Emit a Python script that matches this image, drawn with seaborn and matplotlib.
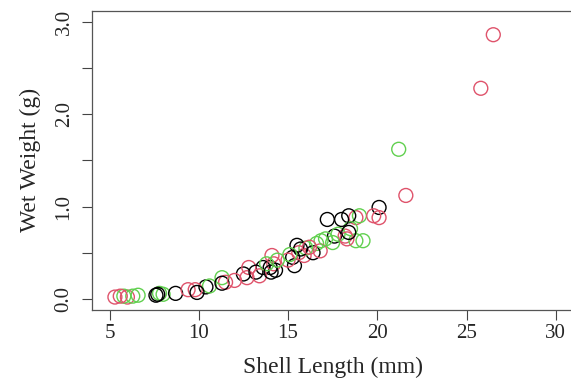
import numpy as np
import pandas as pd
import matplotlib
matplotlib.use("Agg")
import matplotlib.pyplot as plt
import seaborn as sns

# Shell length (mm) and wet weight (g) per group
black_len = [7.6, 7.7, 8.7, 9.9, 10.4, 11.3, 12.5, 13.2, 13.6, 14.0, 14.05, 14.3,
             15.26, 15.36, 15.5, 15.7, 16.4, 17.2, 17.6, 18.0, 18.4, 18.4, 20.1]
black_wt = [0.04, 0.05, 0.06, 0.07, 0.13, 0.17, 0.27, 0.29, 0.34, 0.34, 0.29, 0.31,
            0.45, 0.36, 0.58, 0.54, 0.50, 0.86, 0.68, 0.86, 0.90, 0.72, 0.99]

red_len = [5.3, 5.6, 6.0, 9.4, 9.8, 11.5, 12.0, 12.7, 12.8, 13.4, 14.1, 14.2,
           15.0, 15.6, 15.9, 16.2, 16.8, 18.2, 18.3, 18.8, 19.8, 20.1, 21.6, 25.8, 26.5]
red_wt = [0.02, 0.03, 0.02, 0.10, 0.10, 0.18, 0.20, 0.23, 0.34, 0.25, 0.47, 0.38,
          0.42, 0.50, 0.47, 0.56, 0.52, 0.68, 0.65, 0.88, 0.90, 0.88, 1.12, 2.28, 2.86]

green_len = [5.8, 6.3, 6.6, 7.8, 8.0, 10.6, 11.3, 13.8, 14.4, 15.1, 16.0, 16.6,
             16.85, 17.1, 17.5, 17.8, 18.5, 18.8, 19.0, 19.2, 21.2]
green_wt = [0.03, 0.03, 0.04, 0.06, 0.05, 0.14, 0.23, 0.38, 0.42, 0.48, 0.55, 0.60,
            0.63, 0.65, 0.61, 0.70, 0.76, 0.63, 0.90, 0.63, 1.62]

palette = {"black": "#000000", "red": "#DF536B", "green": "#61D04F"}

df = pd.concat([
    pd.DataFrame({"length": black_len, "weight": black_wt, "group": "black"}),
    pd.DataFrame({"length": red_len, "weight": red_wt, "group": "red"}),
    pd.DataFrame({"length": green_len, "weight": green_wt, "group": "green"}),
]).sample(frac=1, random_state=3).reset_index(drop=True)  # mix drawing order

sns.set_style("white")
plt.rcParams["font.family"] = ["Liberation Serif", "DejaVu Serif"]

fig = plt.figure(figsize=(5.71, 3.86), dpi=100)
ax = fig.add_axes([0.1606, 0.1969, 0.844, 0.7754])

sns.scatterplot(data=df, x="length", y="weight", hue="group", palette=palette,
                s=100, linewidth=1.0, legend=False, ax=ax)
# open circles like R's pch=1
coll = ax.collections[0]
coll.set_edgecolors(coll.get_facecolors())
coll.set_facecolors("none")

ax.set_xlim(4, 31)
ax.set_ylim(-0.12, 3.12)
ax.set_xticks([5, 10, 15, 20, 25, 30])
ax.set_yticks([0, 0.5, 1.0, 1.5, 2.0, 2.5, 3.0])
ax.set_yticklabels(["0.0", "", "1.0", "", "2.0", "", "3.0"], rotation=90, va="center")
ax.tick_params(axis="both", direction="out", length=7, width=0.8, color="#444444",
               labelsize=15, left=True, bottom=True)
ax.tick_params(axis="x", pad=3)
ax.tick_params(axis="y", pad=6)
for sp in ax.spines.values():
    sp.set_color("#555555")
    sp.set_linewidth(0.9)

ax.set_xlabel("Shell Length (mm)", fontsize=17, labelpad=10)
ax.set_ylabel("Wet Weight (g)", fontsize=17, labelpad=10)

fig.savefig("out.png", dpi=100)
